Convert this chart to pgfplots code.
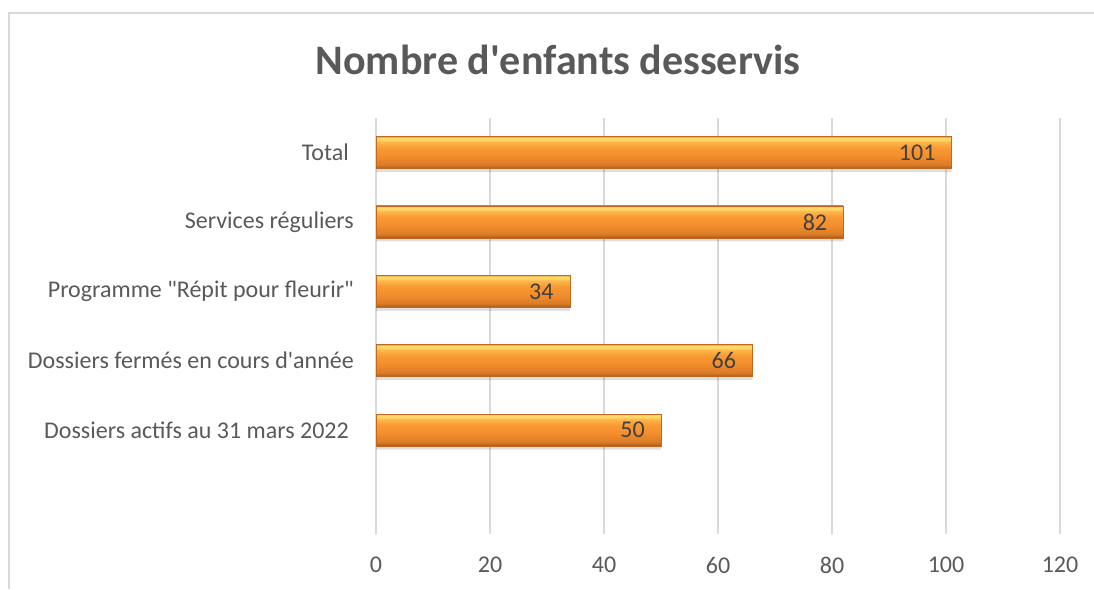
\documentclass[border=0pt]{standalone}
\usepackage{fontspec}
\setmainfont{Carlito}
\usepackage{pgfplots}
\pgfplotsset{compat=1.18}

\definecolor{gridgray}{HTML}{D9D9D9}
\definecolor{txtgray}{HTML}{595959}
\definecolor{valgray}{HTML}{404040}
\definecolor{obot}{HTML}{8A4A14}
\definecolor{odark}{HTML}{B5621E}
\definecolor{olow}{HTML}{D97B28}
\definecolor{omid}{HTML}{F38D2D}
\definecolor{omid2}{HTML}{F99A33}
\definecolor{olight}{HTML}{FCB548}
\definecolor{oyellow}{HTML}{FFD86A}
\definecolor{otop}{HTML}{F6A03C}
\definecolor{oedge}{HTML}{C0681F}

\pgfdeclareverticalshading{barshade}{100bp}{%
  color(0bp)=(obot); color(25bp)=(obot); color(26.5bp)=(odark);
  color(31bp)=(olow); color(44bp)=(omid); color(58bp)=(omid2);
  color(66bp)=(olight); color(70.5bp)=(oyellow); color(73bp)=(oyellow);
  color(75bp)=(otop); color(100bp)=(otop)}

\newcommand{\lbl}{\fontsize{24}{28}\selectfont}

\pgfplotsset{
  shadowbar/.style={draw=none, fill=black, fill opacity=0.12,
    bar shift=-3pt, bar width=33pt},
  orangebar/.style={draw=oedge, line width=0.5pt, shading=barshade,
    bar shift=0pt, nodes near coords,
    every node near coord/.append style={font=\lbl, text=valgray,
      anchor=east, inner sep=0pt, xshift=-16pt}},
}

\begin{document}
\begin{tikzpicture}
\useasboundingbox (0,0) rectangle (1094pt,589pt);
% chart frame (partly cropped)
\draw[gridgray, line width=1.5pt] (9pt,0) -- (9pt,576pt) -- (1094pt,576pt);

\node[font=\bfseries\fontsize{42}{50}\selectfont, text=txtgray, anchor=base]
  at (558pt,514pt) {Nombre d\textquotesingle enfants desservis};

\begin{axis}[
  at={(376pt,55pt)}, anchor=south west,
  scale only axis, width=684pt, height=416pt,
  xbar,
  xmin=0, xmax=120, ymin=-0.5, ymax=5.5,
  xtick={0,20,...,120},
  ytick={1,2,3,4,5},
  yticklabels={Dossiers actifs au 31 mars 2022\hspace*{5pt},
    Dossiers fermés en cours d\textquotesingle année,
    Programme \textquotedbl Répit pour fleurir\textquotedbl,
    Services réguliers,
    Total\hspace*{5pt}},
  xmajorgrids,
  grid style={gridgray, line width=1.3pt},
  axis line style={draw=none},
  major tick length=0pt,
  tick style={draw=none},
  bar width=32pt,
  xticklabel style={font=\lbl, text=txtgray, inner sep=0pt, yshift=-23pt},
  yticklabel style={font=\lbl, text=txtgray, inner sep=0pt, xshift=-22pt},
  /pgf/number format/assume math mode=true,
  clip=false,
]
% soft shadow under the bars
\addplot[shadowbar] coordinates {(50,1) (66,2) (34,3) (82,4) (101,5)};
% one plot per bar so that each bar gets its own shading
\addplot[orangebar] coordinates {(50,1)};
\addplot[orangebar] coordinates {(66,2)};
\addplot[orangebar] coordinates {(34,3)};
\addplot[orangebar] coordinates {(82,4)};
\addplot[orangebar] coordinates {(101,5)};
\end{axis}
\end{tikzpicture}
\end{document}
